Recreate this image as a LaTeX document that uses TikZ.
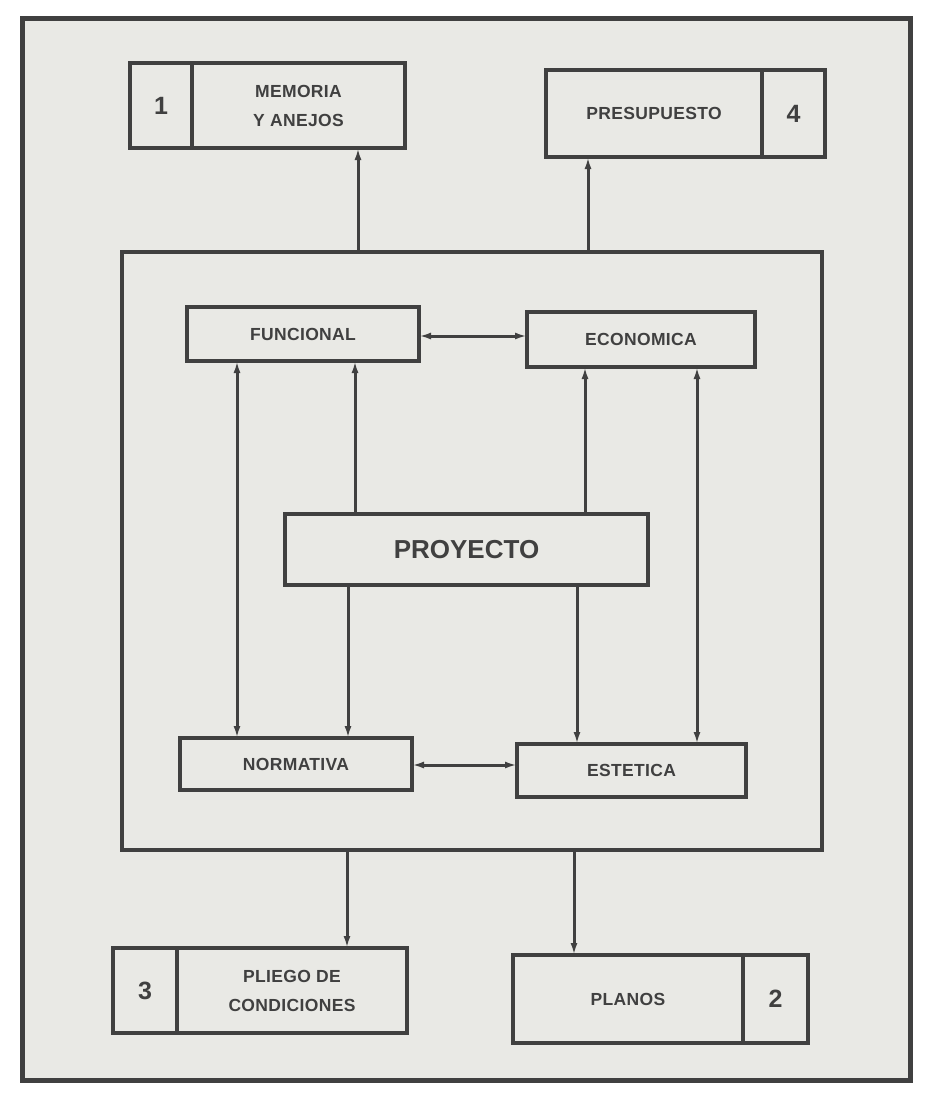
\documentclass[tikz,border=0pt]{standalone}
\usepackage{fontspec}
\setmainfont{Liberation Sans}
\newfontfamily\lblfont[LetterSpace=2]{Liberation Sans}
\usetikzlibrary{arrows.meta}
\definecolor{ink}{HTML}{404040}
\definecolor{paper}{HTML}{E9E9E5}

\tikzset{every picture/.style={line width=2pt}}
\tikzset{
	box/.style={draw=ink, line width=3.5pt, inner sep=0pt, outer sep=0pt, text=ink, align=center,
		font=\lblfont\bfseries\fontsize{17.5}{29}\selectfont},
	numcell/.style={box, font=\bfseries\fontsize{25}{25}\selectfont},
	conn/.style={draw=ink, line width=3pt, -{Latex[length=12pt,width=7pt]}},
	dconn/.style={draw=ink, line width=3pt, {Latex[length=12pt,width=7pt]}-{Latex[length=12pt,width=7pt]}}
}

\begin{document}
\begin{tikzpicture}[x=1pt,y=1pt,yscale=-1,xscale=1]
	\useasboundingbox (0,0) rectangle (925,1093);
	\fill[white] (0,0) rectangle (925,1093);
	%page frame
	\draw[draw=ink, line width=5pt, fill=paper] (22,18) rectangle (910,1080);
	
	%documents on top
	\node[numcell, minimum width=62, minimum height=85] (n1) at (161,105.5) {1};
	\node[box, minimum width=213, minimum height=85] (memoria) at (298.5,105.5) {MEMORIA\\Y ANEJOS};
	\node[box, minimum width=216, minimum height=87] (presupuesto) at (654,113.5) {PRESUPUESTO};
	\node[numcell, minimum width=63, minimum height=87] (n4) at (793.5,113.5) {4};
	
	%project frame
	\node[box, line width=4pt, minimum width=700, minimum height=598] (frame) at (472,551) {};
	
	%the four sides of the project
	\node[box, minimum width=232, minimum height=54] (funcional) at (303,334) {FUNCIONAL};
	\node[box, minimum width=228, minimum height=55] (economica) at (641,339.5) {ECONOMICA};
	\node[box, line width=4.5pt, minimum width=363, minimum height=71,
		font=\bfseries\fontsize{26}{26}\selectfont] (proyecto) at (466.5,549.5) {PROYECTO};
	\node[box, minimum width=232, minimum height=52] (normativa) at (296,764) {NORMATIVA};
	\node[box, minimum width=229, minimum height=53] (estetica) at (631.5,770.5) {ESTETICA};
	
	%documents at the bottom
	\node[numcell, minimum width=64, minimum height=85] (n3) at (145,990.5) {3};
	\node[box, minimum width=230, minimum height=85] (pliego) at (292,990.5) {PLIEGO DE\\CONDICIONES};
	\node[box, minimum width=230, minimum height=88] (planos) at (628,999) {PLANOS};
	\node[numcell, minimum width=65, minimum height=88] (n2) at (775.5,999) {2};
	
	%where the connectors run
	\coordinate (xmem) at (358,0);
	\coordinate (xpre) at (588,0);
	\coordinate (xfl) at (237,0);
	\coordinate (xfr) at (355,0);
	\coordinate (xnr) at (348,0);
	\coordinate (xel) at (585,0);
	\coordinate (xer) at (577,0);
	\coordinate (xee) at (697,0);
	\coordinate (xpl) at (347,0);
	\coordinate (xpn) at (574,0);
	\coordinate (yfe) at (0,336);
	\coordinate (yne) at (0,765);
	
	%connectors
	\draw[conn] (frame.north -| xmem) -- (memoria.south -| xmem);
	\draw[conn] (frame.north -| xpre) -- (presupuesto.south -| xpre);
	\draw[dconn] (funcional.east |- yfe) -- (economica.west |- yfe);
	\draw[dconn] (funcional.south -| xfl) -- (normativa.north -| xfl);
	\draw[conn] (proyecto.north -| xfr) -- (funcional.south -| xfr);
	\draw[conn] (proyecto.south -| xnr) -- (normativa.north -| xnr);
	\draw[conn] (proyecto.north -| xel) -- (economica.south -| xel);
	\draw[conn] (proyecto.south -| xer) -- (estetica.north -| xer);
	\draw[dconn] (economica.south -| xee) -- (estetica.north -| xee);
	\draw[dconn] (normativa.east |- yne) -- (estetica.west |- yne);
	\draw[conn] (frame.south -| xpl) -- (pliego.north -| xpl);
	\draw[conn] (frame.south -| xpn) -- (planos.north -| xpn);
	
\end{tikzpicture}
\end{document}
